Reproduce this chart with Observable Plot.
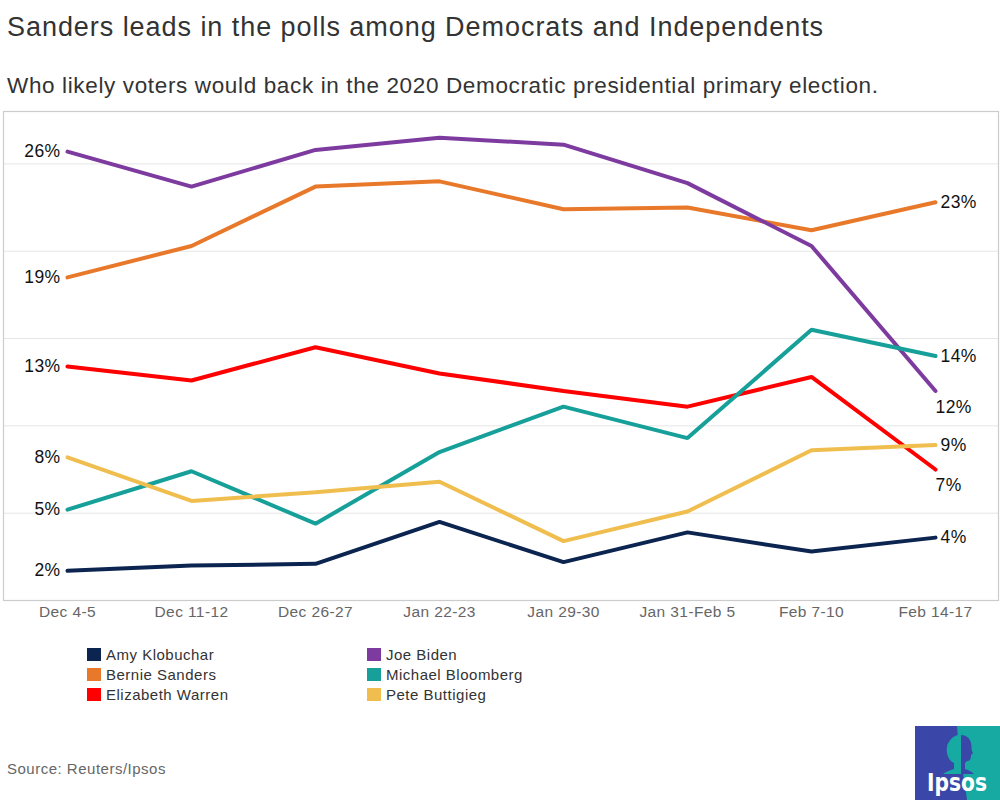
<!DOCTYPE html>
<html>
<head>
<meta charset="utf-8">
<script src="https://cdn.jsdelivr.net/npm/d3@7"></script>
<script src="https://cdn.jsdelivr.net/npm/@observablehq/plot@0.6"></script>
<style>
  html, body { margin: 0; padding: 0; background: #fff; }
  body { width: 1000px; height: 800px; position: relative; overflow: hidden; font-family: Arial, "Liberation Sans", sans-serif; }
  #title { position: absolute; left: 7px; top: 14px; font-size: 27px; line-height: 27px; letter-spacing: 0.95px; color: #333; white-space: nowrap; }
  #subtitle { position: absolute; left: 7px; top: 75px; font-size: 22.5px; line-height: 22.5px; letter-spacing: 0.64px; color: #333; white-space: nowrap; }
  #chart { position: absolute; left: 0; top: 100px; }
  #chart svg text { letter-spacing: 0.4px; }
  #legend { position: absolute; left: 87px; top: 644.5px; display: grid; grid-template-columns: 280px 280px; grid-auto-flow: column; grid-template-rows: 20px 20px 20px; }
  .item { display: flex; align-items: center; height: 20px; font-size: 15px; letter-spacing: 0.5px; color: #333; white-space: nowrap; }
  .sw { width: 13.5px; height: 13.5px; margin-right: 5.5px; flex: none; }
  #source { position: absolute; left: 7px; top: 761px; font-size: 15px; line-height: 15px; letter-spacing: 0.5px; color: #666; }
  #logo { position: absolute; left: 915px; top: 726px; }
</style>
</head>
<body>
<div id="title">Sanders leads in the polls among Democrats and Independents</div>
<div id="subtitle">Who likely voters would back in the 2020 Democratic presidential primary election.</div>
<div id="chart"></div>
<div id="legend"></div>
<div id="source">Source: Reuters/Ipsos</div>
<svg id="logo" width="85" height="74" viewBox="0 0 85 74">
  <rect x="0" y="0" width="85" height="74" fill="#3a47a8"/>
  <path d="M42,0 L85,0 L85,74 L52,74 C50,55 44,30 42,0 Z" fill="#16aaa2"/>
  <path d="M34,16 C37,10 44,8 46,9 L46,48 L28,48 C31,46 35,44 39,43 L39,37 C33,34 31,27 32,21 C32,19 33,17 34,16 Z" fill="#16aaa2"/>
  <path d="M46,9 C51,9 55,12 56,17 C57,21 56,24 58,27 L56,29 C56,33 55,35 52,35 L50,37 L50,43 C54,44 57,46 59,48 L46,48 Z" fill="#3a47a8"/>
  <text x="42" y="65" text-anchor="middle" fill="#fff" font-family="'Liberation Sans Narrow', 'DejaVu Sans Condensed', Arial, sans-serif" font-weight="bold" font-size="25" textLength="60" lengthAdjust="spacingAndGlyphs">Ipsos</text>
</svg>
<script>
// ---- data ----
const dates = ["Dec 4-5", "Dec 11-12", "Dec 26-27", "Jan 22-23", "Jan 29-30", "Jan 31-Feb 5", "Feb 7-10", "Feb 14-17"];
const names = ["Amy Klobuchar", "Bernie Sanders", "Elizabeth Warren", "Joe Biden", "Michael Bloomberg", "Pete Buttigieg"];
const colors = ["#0c2550", "#e8792b", "#ff0000", "#7e3b9f", "#16a099", "#f0be4f"];
const klobuchar = [1.7, 2.0, 2.1, 4.5, 2.2, 3.9, 2.8, 3.6];
const sanders   = [18.5, 20.3, 23.7, 24.0, 22.4, 22.5, 21.2, 22.8];
const warren    = [13.4, 12.6, 14.5, 13.0, 12.0, 11.1, 12.8, 7.5];
const biden     = [25.7, 23.7, 25.8, 26.5, 26.1, 23.9, 20.3, 12.0];
const bloomberg = [5.2, 7.4, 4.4, 8.5, 11.1, 9.3, 15.5, 14.0];
const buttigieg = [8.2, 5.7, 6.2, 6.8, 3.4, 5.1, 8.6, 8.9];
const startLabels = ["2%", "19%", "13%", "26%", "5%", "8%"];
const endLabels   = ["4%", "23%", "7%", "12%", "14%", "9%"];
const gridValues = [5, 10, 15, 20, 25];

// ---- build table ----
const seriesValues = [klobuchar, sanders, warren, biden, bloomberg, buttigieg];
const rows = [];
names.forEach((n, i) => dates.forEach((d, j) => rows.push({name: n, date: d, value: seriesValues[i][j]})));
const last = dates.length - 1;
const starts = names.map((n, i) => ({name: n, date: dates[0], value: seriesValues[i][0], label: startLabels[i]}));
const ends = names.map((n, i) => ({name: n, date: dates[last], value: seriesValues[i][last], label: endLabels[i]}));
const below = new Set(["Joe Biden", "Elizabeth Warren"]);

const chart = Plot.plot({
  width: 1000,
  height: 530,
  marginTop: 11,
  marginBottom: 30,
  marginLeft: 3,
  marginRight: 2,
  style: {fontFamily: "Arial, 'Liberation Sans', sans-serif", background: "transparent", overflow: "visible"},
  x: {type: "point", domain: dates, range: [64, 937], padding: 0, label: null},
  y: {domain: [0, 28], range: [500, 11], axis: null},
  color: {domain: names, range: colors},
  marks: [
    Plot.ruleY(gridValues, {stroke: "#e6e6e6", strokeWidth: 1}),
    Plot.frame({stroke: "#cccccc", strokeWidth: 1.2}),
    Plot.axisX({tickSize: 0, tickPadding: 5, fontSize: 15.5, fill: "#666", label: null}),
    Plot.line(rows, {x: "date", y: "value", z: "name", stroke: "name", strokeWidth: 4, strokeLinejoin: "miter", strokeLinecap: "round"}),
    Plot.text(starts, {x: "date", y: "value", text: "label", textAnchor: "end", dx: -7, fontSize: 17.5, fill: "#111"}),
    Plot.text(ends.filter(d => !below.has(d.name)), {x: "date", y: "value", text: "label", textAnchor: "start", dx: 5, fontSize: 17.5, fill: "#111"}),
    Plot.text(ends.filter(d => below.has(d.name)), {x: "date", y: "value", text: "label", textAnchor: "start", dx: 0, dy: 16, fontSize: 17.5, fill: "#111"})
  ]
});
document.getElementById("chart").appendChild(chart);

// ---- legend ----
const legend = document.getElementById("legend");
names.forEach((n, i) => {
  const item = document.createElement("div");
  item.className = "item";
  const sw = document.createElement("span");
  sw.className = "sw";
  sw.style.background = colors[i];
  item.appendChild(sw);
  item.appendChild(document.createTextNode(n));
  legend.appendChild(item);
});
</script>
</body>
</html>
